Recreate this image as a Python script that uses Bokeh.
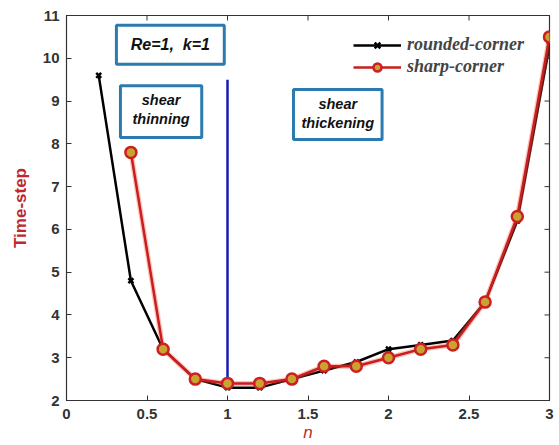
import math
from bokeh.plotting import figure
from bokeh.models import Range1d, Legend, LegendItem, FixedTicker
from bokeh.core.properties import value
from bokeh.embed import file_html
from bokeh.resources import INLINE

# data
n_rounded = [0.2, 0.4, 0.6, 0.8, 1.0, 1.2, 1.4, 1.6, 1.8, 2.0, 2.2, 2.4, 2.6, 2.8, 3.0]
ts_rounded = [9.6, 4.8, 3.2, 2.5, 2.3, 2.3, 2.5, 2.7, 2.9, 3.2, 3.3, 3.4, 4.3, 6.2, 10.3]
n_sharp = [0.4, 0.6, 0.8, 1.0, 1.2, 1.4, 1.6, 1.8, 2.0, 2.2, 2.4, 2.6, 2.8, 3.0]
ts_sharp = [7.8, 3.2, 2.5, 2.4, 2.4, 2.5, 2.8, 2.8, 3.0, 3.2, 3.3, 4.3, 6.3, 10.5]
divider_n = [1.0, 1.0]
divider_ts = [2.35, 9.5]
x_ticks = [0, 0.5, 1, 1.5, 2, 2.5, 3]
y_ticks = [2, 3, 4, 5, 6, 7, 8, 9, 10, 11]

X_MIN, X_MAX, Y_MIN, Y_MAX = 0, 3, 2, 11

p = figure(width=559, height=445, output_backend="svg", toolbar_location=None,
           x_range=Range1d(X_MIN, X_MAX), y_range=Range1d(Y_MIN, Y_MAX),
           min_border_left=66, min_border_right=10, min_border_top=15, min_border_bottom=45)
p.outline_line_color = "#333333"
p.outline_line_width = 1.2
p.xgrid.visible = False
p.ygrid.visible = False
p.background_fill_color = "white"
p.border_fill_color = "white"

axis_color = "#333333"
for ax in [p.xaxis[0], p.yaxis[0]]:
    ax.axis_line_color = axis_color
    ax.major_tick_in = 5
    ax.major_tick_out = 0
    ax.minor_tick_line_color = None
    ax.major_tick_line_color = axis_color
    ax.major_label_text_font = "Liberation Sans"
    ax.major_label_text_font_style = "bold"
    ax.major_label_text_font_size = "15px"
    ax.major_label_text_color = "#333333"
p.xaxis[0].ticker = FixedTicker(ticks=x_ticks)
p.yaxis[0].ticker = FixedTicker(ticks=y_ticks)
p.xaxis[0].major_label_standoff = 8
p.yaxis[0].major_label_standoff = 7
p.xaxis[0].major_label_overrides = {0: "0", 0.5: "0.5", 1: "1", 1.5: "1.5", 2: "2", 2.5: "2.5", 3: "3"}
p.xaxis[0].axis_label = "n"
p.xaxis[0].axis_label_text_font = "Liberation Sans"
p.xaxis[0].axis_label_text_font_style = "italic"
p.xaxis[0].axis_label_text_font_size = "17px"
p.xaxis[0].axis_label_text_color = "#c0282d"
p.xaxis[0].axis_label_standoff = 1
p.yaxis[0].axis_label = "Time-step"
p.yaxis[0].axis_label_text_font = "Liberation Sans"
p.yaxis[0].axis_label_text_font_style = "bold"
p.yaxis[0].axis_label_text_font_size = "17px"
p.yaxis[0].axis_label_text_color = "#c0282d"
p.yaxis[0].axis_label_standoff = 10

# mirrored ticks on top and right edges (dash markers clipped by the frame)
p.scatter(x_ticks, [Y_MAX] * len(x_ticks), marker="dash", size=10, angle=math.pi / 2,
          line_color=axis_color, line_width=1)
p.scatter([X_MAX] * len(y_ticks), y_ticks, marker="dash", size=10,
          line_color=axis_color, line_width=1)

# text boxes
box_color = "#2b7bb0"
p.quad(left=0.31, right=0.98, top=10.77, bottom=9.86, fill_color="white",
       line_color=box_color, line_width=3)
p.text(x=[0.645], y=[10.315], text=["Re=1,\u00a0\u00a0k=1"], text_font=value("Liberation Sans"),
       text_font_style="bold italic", text_font_size="16px", text_align="center",
       text_baseline="middle", text_color="#111111")
p.quad(left=0.335, right=0.84, top=9.36, bottom=8.15, fill_color="white",
       line_color=box_color, line_width=3)
p.text(x=[0.5875, 0.5875], y=[9.02, 8.57], text=["shear", "thinning"],
       text_font=value("Liberation Sans"), text_font_style="bold italic",
       text_font_size="14.5px", text_align="center", text_baseline="middle",
       text_color="#111111")
p.quad(left=1.41, right=1.96, top=9.27, bottom=8.10, fill_color="white",
       line_color=box_color, line_width=3)
p.text(x=[1.685, 1.685], y=[8.93, 8.48], text=["shear", "thickening"],
       text_font=value("Liberation Sans"), text_font_style="bold italic",
       text_font_size="14.5px", text_align="center", text_baseline="middle",
       text_color="#111111")

# divider line
p.line(divider_n, divider_ts, line_color="#1a1ab8", line_width=2.5)

# series
rl = p.line(n_rounded, ts_rounded, line_color="black", line_width=2.5)
rm = p.scatter(n_rounded, ts_rounded, marker="x", size=7, line_color="black", line_width=2.5)
p.line(n_sharp, ts_sharp, line_color="#ff4a3a", line_width=5, line_alpha=0.35)
sl = p.line(n_sharp, ts_sharp, line_color="#c81e1e", line_width=2.5)
sm = p.scatter(n_sharp, ts_sharp, marker="circle", size=11, fill_color="#c9a232",
               line_color="#cc1f1f", line_width=2.5)

legend = Legend(items=[LegendItem(label="rounded-corner", renderers=[rl, rm]),
                       LegendItem(label="sharp-corner", renderers=[sl, sm])],
                location=(287, 323))
legend.label_text_font = "Liberation Serif"
legend.label_text_font_style = "bold italic"
legend.label_text_font_size = "18px"
legend.background_fill_alpha = 0
legend.border_line_color = None
legend.glyph_width = 48
legend.label_standoff = 6
legend.spacing = 1
legend.padding = 4
legend.margin = 0
legend.label_height = 20
legend.glyph_height = 20
p.add_layout(legend)

open("out.html", "w").write(file_html(p, INLINE))
